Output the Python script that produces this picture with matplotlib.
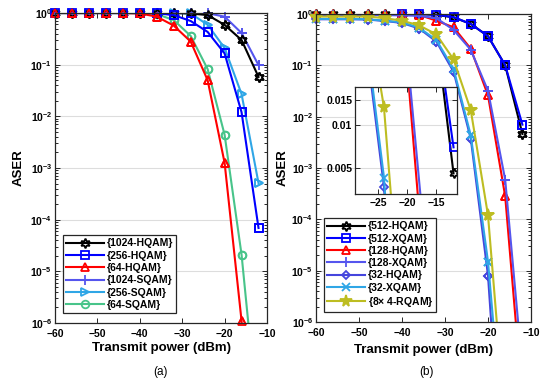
import numpy as np
import matplotlib
matplotlib.use("Agg")
import matplotlib.pyplot as plt
from matplotlib.ticker import FixedLocator, FuncFormatter, LogLocator, NullFormatter, NullLocator

plt.rcParams['font.family'] = ['Liberation Sans', 'DejaVu Sans']
plt.rcParams['font.weight'] = 'bold'
plt.rcParams['mathtext.fontset'] = 'custom'
plt.rcParams['mathtext.rm'] = 'Liberation Sans:bold'
plt.rcParams['mathtext.bf'] = 'Liberation Sans:bold'
plt.rcParams['mathtext.it'] = 'Liberation Sans:bold'

# ---------------- data ----------------
power = [-60, -56, -52, -48, -44, -40, -36, -32, -28, -24, -20, -16, -12]

# panel (a)
a_labels = ['{1024-HQAM}', '{256-HQAM}', '{64-HQAM}', '{1024-SQAM}', '{256-SQAM}', '{64-SQAM}']
hqam1024 = [1, 1, 1, 1, 1, 1, 1, 1, 0.98, 0.91, 0.59, 0.30, 0.058]
hqam256 = [1, 1, 1, 1, 1, 1, 0.99, 0.91, 0.70, 0.43, 0.165, 0.012, 6.9e-5]
hqam64 = [1, 1, 1, 1, 1, 0.98, 0.85, 0.57, 0.28, 0.05, 1.26e-3, 1.1e-6, 1e-10]
sqam1024 = [1, 1, 1, 1, 1, 1, 1, 1, 1, 0.99, 0.85, 0.41, 0.098]
sqam256 = [1, 1, 1, 1, 1, 1, 1, 1, 0.98, 0.59, 0.21, 0.027, 5.1e-4]
sqam64 = [1, 1, 1, 1, 1, 1, 0.95, 0.73, 0.36, 0.082, 4.4e-3, 2.1e-5, 1e-8]

# panel (b)
b_labels = ['{512-HQAM}', '{512-XQAM}', '{128-HQAM}', '{128-XQAM}', '{32-HQAM}', '{32-XQAM}', '{8$\\times$ 4-RQAM}']
hqam512 = [1, 1, 1, 1, 1, 1, 1, 0.96, 0.86, 0.64, 0.37, 0.10, 4.6e-3]
xqam512 = [np.nan, np.nan, np.nan, np.nan, np.nan, 1, 1, 0.97, 0.87, 0.64, 0.37, 0.10, 7.0e-3]
hqam128 = [0.99, 0.99, 0.99, 0.99, 0.99, 0.99, 0.96, 0.74, 0.55, 0.21, 0.026, 2.8e-4, 3e-8]
xqam128 = [0.95, 0.95, 0.95, 0.95, 0.95, 0.94, 0.92, 0.83, 0.49, 0.20, 0.032, 5.9e-4, 1.2e-7]
hqam32 = [0.79, 0.79, 0.79, 0.78, 0.73, 0.67, 0.52, 0.29, 0.075, 3.7e-3, 8e-6, 1e-10, 1e-14]
xqam32 = [0.80, 0.80, 0.80, 0.79, 0.74, 0.69, 0.54, 0.31, 0.085, 4.3e-3, 1.5e-5, 2e-9, 1e-13]
rqam8x4 = [0.89, 0.89, 0.89, 0.89, 0.83, 0.74, 0.60, 0.40, 0.13, 0.0133, 1.2e-4, 1e-8, 1e-12]

# ---------------- styles ----------------
C_PURP = '#5555EE'
C_CYAN = '#2FA6E6'
C_GREEN = '#48C48A'
C_OLIVE = '#BDBD22'
hexagram = (6, 1, 0)

a_series = [
    (hqam1024, 'black', hexagram, 7),
    (hqam256, '#0000FF', 's', 5.5),
    (hqam64, '#FF0000', '^', 6),
    (sqam1024, C_PURP, '+', 7),
    (sqam256, C_CYAN, '>', 6),
    (sqam64, C_GREEN, 'o', 5.5),
]
a_order = [5, 4, 3, 0, 1, 2]

b_series = [
    (hqam512, 'black', hexagram, 7),
    (xqam512, '#0000FF', 's', 5.5),
    (hqam128, '#FF0000', '^', 6),
    (xqam128, C_PURP, '+', 7),
    (hqam32, '#4545DD', 'D', 4.5),
    (xqam32, C_CYAN, 'x', 5.5),
    (rqam8x4, C_OLIVE, '*', 8.5),
]
b_order = [0, 1, 2, 3, 4, 5, 6]

W, H = 548, 384
fig = plt.figure(figsize=(W / 100, H / 100), dpi=100)

def frac(x0, y0, x1, y1):
    return [x0 / W, 1 - y1 / H, (x1 - x0) / W, (y1 - y0) / H]

SPINE = '#262626'
FS = 7.5
LW = 1.5
MEW = 1.3

def style_axes(ax):
    for s in ax.spines.values():
        s.set_color(SPINE)
        s.set_linewidth(0.9)
    ax.tick_params(which='both', direction='in', top=True, right=True, colors=SPINE,
                   labelcolor='black', labelsize=FS, width=0.7)
    ax.tick_params(which='major', length=3.5)
    ax.tick_params(which='minor', length=2)
    ax.grid(True, axis='y', which='major', color='#DDDDDD', linewidth=0.8)
    ax.set_axisbelow(True)

def sci(v, pos):
    e = int(round(np.log10(v)))
    return r'$\mathbf{10^{%d}}$' % e

def draw(ax, series, order, labels):
    handles = [None] * len(series)
    ylo = 1e-6
    for k, i in enumerate(order):
        y, c, m, ms = series[i]
        y = np.array(y, dtype=float)
        x = np.array(power, dtype=float)
        fill = c if m == '*' else 'none'
        h, = ax.plot(x, y, color=c, lw=LW, marker=m, ms=ms, mfc=fill, mec=c, mew=MEW,
                     label=labels[i], zorder=2 + k * 0.01)
        mask = (~np.isnan(y)) & (y >= ylo)
        ax.plot(x[mask], y[mask], ls='none', marker=m, ms=ms, mfc=fill, mec=c, mew=MEW,
                clip_on=False, zorder=2 + k * 0.01)
        handles[i] = h
    return handles

def setup_main(ax):
    ax.set_yscale('log')
    ax.set_xlim(-60, -10)
    ax.set_ylim(1e-6, 1)
    ax.set_xticks([-60, -50, -40, -30, -20, -10])
    ax.yaxis.set_major_locator(FixedLocator([1e-6, 1e-5, 1e-4, 1e-3, 1e-2, 1e-1, 1]))
    ax.yaxis.set_major_formatter(FuncFormatter(sci))
    ax.yaxis.set_minor_locator(LogLocator(base=10, subs=np.arange(2, 10), numticks=20))
    ax.yaxis.set_minor_formatter(NullFormatter())
    style_axes(ax)
    ax.tick_params(axis='y', which='major', pad=2)
    ax.tick_params(axis='x', which='major', pad=4)
    ax.set_xlabel('Transmit power (dBm)', fontsize=9.5, fontweight='bold')
    ax.set_ylabel('ASER', fontsize=9.5, fontweight='bold')

def add_legend(ax, handles, anchor):
    leg = ax.legend(handles=handles, loc='lower left', bbox_to_anchor=anchor, borderaxespad=0,
                    fontsize=FS, frameon=True, fancybox=False, edgecolor=SPINE, framealpha=1,
                    handlelength=3.6, handletextpad=0.3, labelspacing=0.22, borderpad=0.3)
    leg.get_frame().set_linewidth(0.9)
    return leg

# ---- panel (a)
axa = fig.add_axes(frac(55, 13, 267, 323))
setup_main(axa)
ha = draw(axa, a_series, a_order, a_labels)
axa.xaxis.set_label_coords(0.5, -0.062)
axa.yaxis.set_label_coords(-0.142, 0.5)
add_legend(axa, ha, (0.038, 0.032))

# ---- panel (b)
axb = fig.add_axes(frac(316, 14, 531, 322))
setup_main(axb)
hb = draw(axb, b_series, b_order, b_labels)
axb.xaxis.set_label_coords(0.5, -0.072)
axb.yaxis.set_label_coords(-0.126, 0.5)
add_legend(axb, hb, (0.037, 0.032))

# ---- inset
axi = fig.add_axes(frac(355, 87, 457, 194))
axi.set_yscale('log')
for y, c, m, ms in [b_series[i] for i in b_order]:
    fill = c if m == '*' else 'none'
    axi.plot(power, y, color=c, lw=LW, marker=m, ms=ms, mfc=fill, mec=c, mew=MEW)
axi.set_xlim(-29, -11.4)
axi.set_ylim(0.0033, 0.0185)
axi.set_xticks([-25, -20, -15])
axi.yaxis.set_major_locator(FixedLocator([0.005, 0.01, 0.015]))
axi.yaxis.set_major_formatter(FuncFormatter(lambda v, p: {0.005: '0.005', 0.01: '0.01', 0.015: '0.015'}.get(round(v, 3), '')))
axi.yaxis.set_minor_locator(NullLocator())
style_axes(axi)
axi.tick_params(which='major', pad=2)
axi.tick_params(axis='x', pad=3)

fig.text(160 / W, 1 - 372 / H, '(a)', ha='center', va='center', fontsize=8.5, fontweight='normal')
fig.text(427 / W, 1 - 372 / H, '(b)', ha='center', va='center', fontsize=8.5, fontweight='normal')

fig.savefig('out.png', dpi=100)
